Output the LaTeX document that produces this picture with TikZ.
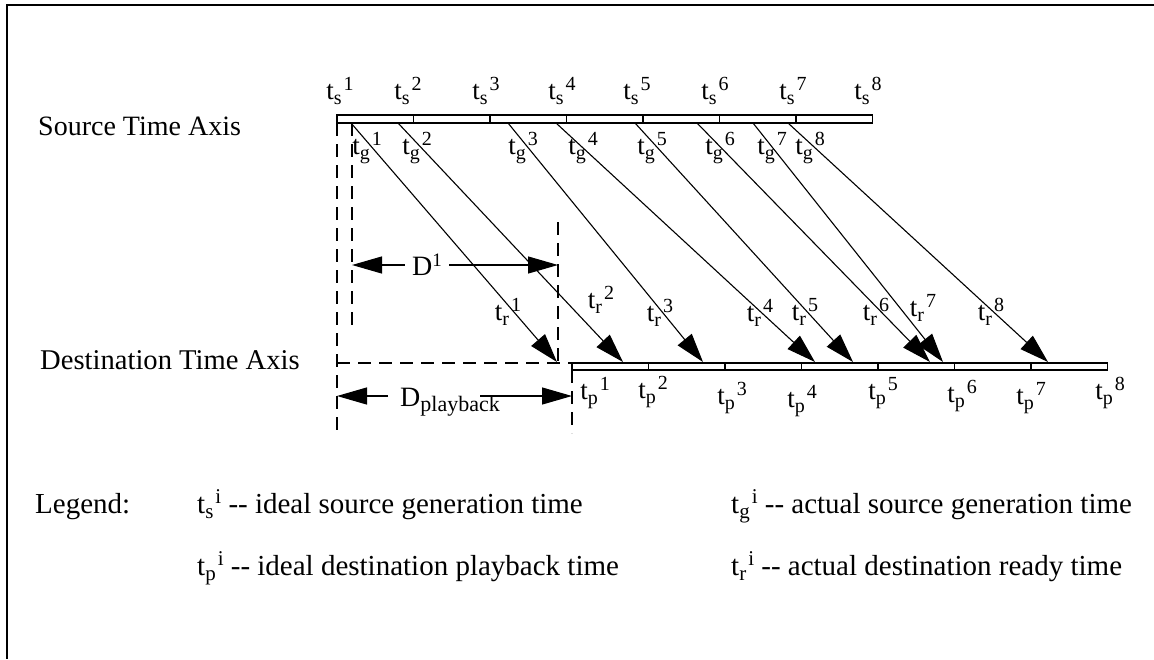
\documentclass[tikz,border=0pt]{standalone}
\usepackage{fontspec}
\setmainfont{Liberation Serif}
\usetikzlibrary{arrows.meta}
% t with a lowered subscript and a raised superscript, one after the other
\newcommand\tlab[2]{t\raisebox{-5pt}{\fontsize{20}{20}\selectfont #1}\kern2pt\raisebox{9.5pt}{\fontsize{20}{20}\selectfont #2}}
\newcommand\ltlab[2]{t\raisebox{-5pt}{\fontsize{21}{21}\selectfont #1}\kern2pt\raisebox{10pt}{\fontsize{21}{21}\selectfont #2}}
\begin{document}
\begin{tikzpicture}[x=1pt,y=-1pt,
  lbl/.style={inner sep=0pt,font=\fontsize{27}{30}\selectfont},
  axname/.style={inner sep=0pt,anchor=base west,font=\fontsize{28}{33}\selectfont},
  legtext/.style={inner sep=0pt,anchor=base west,font=\fontsize{29}{34}\selectfont},
  barline/.style={line width=1.4pt},
  conn/.style={line width=1.1pt,-{Triangle[length=29pt,width=18pt]}},
  dimline/.style={line width=1.2pt,-{Triangle[length=30pt,width=17pt]}},
  dsh/.style={line width=1.2pt,dash pattern=on 13pt off 8pt}
]
\useasboundingbox (0,0) rectangle (1154,659);

% frame
\draw[line width=1.6pt] (1154,5) -- (7,5) -- (7,659);

% tick positions of both time axes
\foreach \i in {1,...,8} {
  \coordinate (st\i) at ({337+76.5*(\i-1)},115);
  \coordinate (sb\i) at ({337+76.5*(\i-1)},123);
  \coordinate (pt\i) at ({572+76.5*(\i-1)},363);
  \coordinate (pb\i) at ({572+76.5*(\i-1)},370);
}

% axis names
\node[axname] (srcname) at (38,135) {Source Time Axis};
\node[axname,font=\fontsize{28.6}{33}\selectfont] (dstname) at (40,369) {Destination Time Axis};

% source and destination bars
\draw[barline] (st1) rectangle (sb8);
\foreach \i in {2,...,7} \draw[barline] (st\i) -- (sb\i);
\draw[barline] (pt1) rectangle (pb8);
\foreach \i in {2,...,7} \draw[barline] (pt\i) -- (pb\i);

% dashed guide lines
\coordinate (gA0) at (337,123);
\coordinate (gA1) at (337,430);
\coordinate (gC)  at (337,363);
\coordinate (gB0) at (352,123);
\coordinate (gB1) at (352,330);
\coordinate (gD0) at (558,222);
\coordinate (gD1) at (558,363);
\coordinate (gE1) at (572,433);
\draw[dsh] (gA0) -- (gA1);
\draw[dsh] (gC) -- (pt1);
\draw[dsh] (gB0) -- (gB1);
\draw[dsh] (gD0) -- (gD1);
\draw[dsh] (pb1) -- (gE1);

% generation and ready instants
\foreach \i/\gx/\rx in {1/351/557,2/398/623,3/508/703,4/556/815,5/635/853,6/697/930,7/753/943,8/788/1048} {
  \coordinate (g\i) at (\gx,123);
  \coordinate (r\i) at (\rx,362);
  \draw[conn] (g\i) -- (r\i);
}

% instant labels
\foreach \i/\x in {1/340,2/408,3/486,4/562,5/637,6/715,7/793,8/868}
  \node[lbl] (ts\i) at (\x,91) {\tlab{s}{\i}};
\foreach \i/\x in {1/367,2/417,3/523,4/583,5/652,6/720,7/772,8/810}
  \node[lbl] (tg\i) at (\x,148) {\tlab{g}{\i}};
\foreach \i/\x/\y in {1/508/312,2/601/300,3/660/313,4/760/313,5/805/312,6/876/312,7/923/308,8/991/312}
  \node[lbl] (tr\i) at (\x,\y) {\tlab{r}{\i}};
\foreach \i/\x/\y in {1/595/393,2/653/392,3/732/398,4/802/401,5/883/393,6/962/396,7/1031/398,8/1110/393}
  \node[lbl] (tp\i) at (\x,\y) {\tlab{p}{\i}};

% delay D^1
\node[inner sep=0pt,inner xsep=7pt,font=\fontsize{28}{30}\selectfont] (D1) at (427,265)
  {D\raisebox{9pt}{\fontsize{19}{19}\selectfont 1}};
\coordinate (D1l) at (352,265);
\coordinate (D1r) at (558,265);
\draw[dimline] (D1.west |- D1l) -- (D1l);
\draw[dimline] (D1.east |- D1r) -- (D1r);

% playback delay
\node[inner sep=0pt,anchor=base west,font=\fontsize{28}{30}\selectfont] (Dp) at (400,406)
  {D\raisebox{-5pt}{\fontsize{22}{22}\selectfont playback}};
\coordinate (Dpl) at (337,396);
\coordinate (Dpa) at (388,396);
\coordinate (Dpb) at (480,396);
\coordinate (Dpr) at (572,396);
\draw[dimline] (Dpa) -- (Dpl);
\draw[dimline] (Dpb) -- (Dpr);

% legend
\node[legtext] (leg) at (35,513) {Legend:};
\node[legtext] (l1) at (197,513) {\ltlab{s}{i} -{}- ideal source generation time};
\node[legtext] (l2) at (197,575) {\ltlab{p}{i} -{}- ideal destination playback time};
\node[legtext] (l3) at (731,513) {\ltlab{g}{i} -{}- actual source generation time};
\node[legtext] (l4) at (731,575) {\ltlab{r}{i} -{}- actual destination ready time};
\end{tikzpicture}
\end{document}
